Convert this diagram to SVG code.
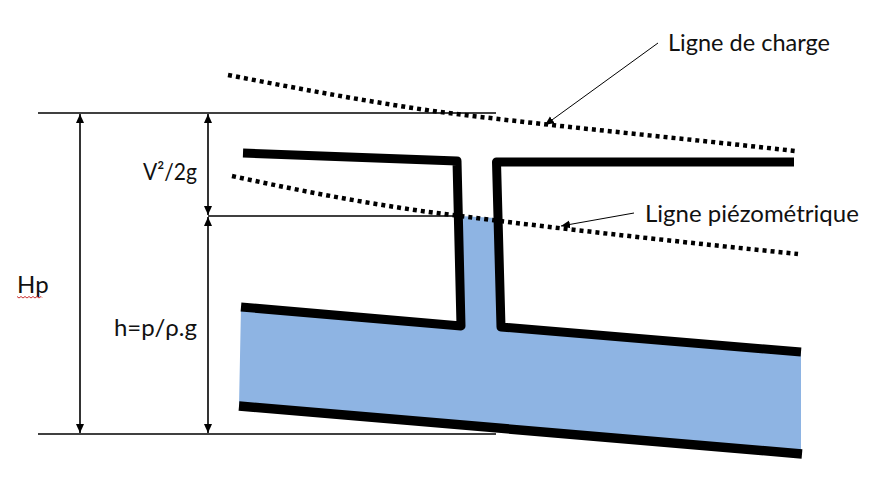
<svg xmlns="http://www.w3.org/2000/svg" width="879" height="504" viewBox="0 0 879 504">
<style>
text{font-family:"Lato","Carlito","Open Sans",sans-serif;font-size:24px;fill:#111}
.thin{fill:none;stroke:#000;stroke-width:1.5}
.dim{fill:none;stroke:#000;stroke-width:1.6;marker-start:url(#a);marker-end:url(#a)}
.lead{fill:none;stroke:#000;stroke-width:1;marker-end:url(#a)}
.wall{fill:none;stroke:#000;stroke-width:9;stroke-linejoin:round}
.dot{fill:none;stroke:#000;stroke-width:4.500;stroke-dasharray:4 4}
</style>
<defs>
<marker id="a" markerUnits="userSpaceOnUse" markerWidth="10" markerHeight="10" refX="9" refY="4" orient="auto-start-reverse" viewBox="0 0 10 8"><path d="M0 0L9 4L0 8Z" fill="#000"/></marker>
</defs>
<rect width="879" height="504" fill="#fff"/>
<polygon id="water" points="241,307 239,406 801,454 801,352 501,328 496.500,218 460,216 461,326" fill="#8EB4E3"/>
<g id="connectors">
<path class="thin" d="M38 113H496"/>
<path class="thin" d="M38 434H496"/>
<path class="thin" d="M208 216H461"/>
<path class="dim" d="M80 114V433"/>
<path class="dim" d="M208 114V215"/>
<path class="dim" d="M208 217V433"/>
<path class="lead" d="M658 43L545 125"/>
<path class="lead" d="M634 213L561 226"/>
</g>
<g id="pipe">
<path class="wall" d="M243 153L457 161L461 326L241 307"/>
<path class="wall" d="M794 162H496.500L501 327L801 352"/>
<path fill="none" stroke="#000" stroke-width="9.500" d="M239 406L802 454"/>
</g>
<g id="lines">
<path class="dot" d="M228 75C300 89 370 102 440 112C560 127 680 138 795 151"/>
<path class="dot" d="M232 176C310 193 385 207 460 216C570 230 690 243 798 254"/>
</g>
<g id="labels">
<text x="668" y="51" textLength="162" lengthAdjust="spacingAndGlyphs">Ligne de charge</text>
<text x="645" y="222">Ligne piézométrique</text>
<text x="143" y="180" textLength="54" lengthAdjust="spacingAndGlyphs">V²/2g</text>
<text x="17" y="293">Hp</text>
<path d="M17 296.500l2 1.500l2-1.500l2 1.500l2-1.500l2 1.500l2-1.500l2 1.500l2-1.500l2 1.500l2-1.500l2 1.500l2-1.500l1 1" fill="none" stroke="#c33" stroke-width="1"/>
<text x="197" y="336" text-anchor="end">h=p/ρ.g</text>
</g>
</svg>
